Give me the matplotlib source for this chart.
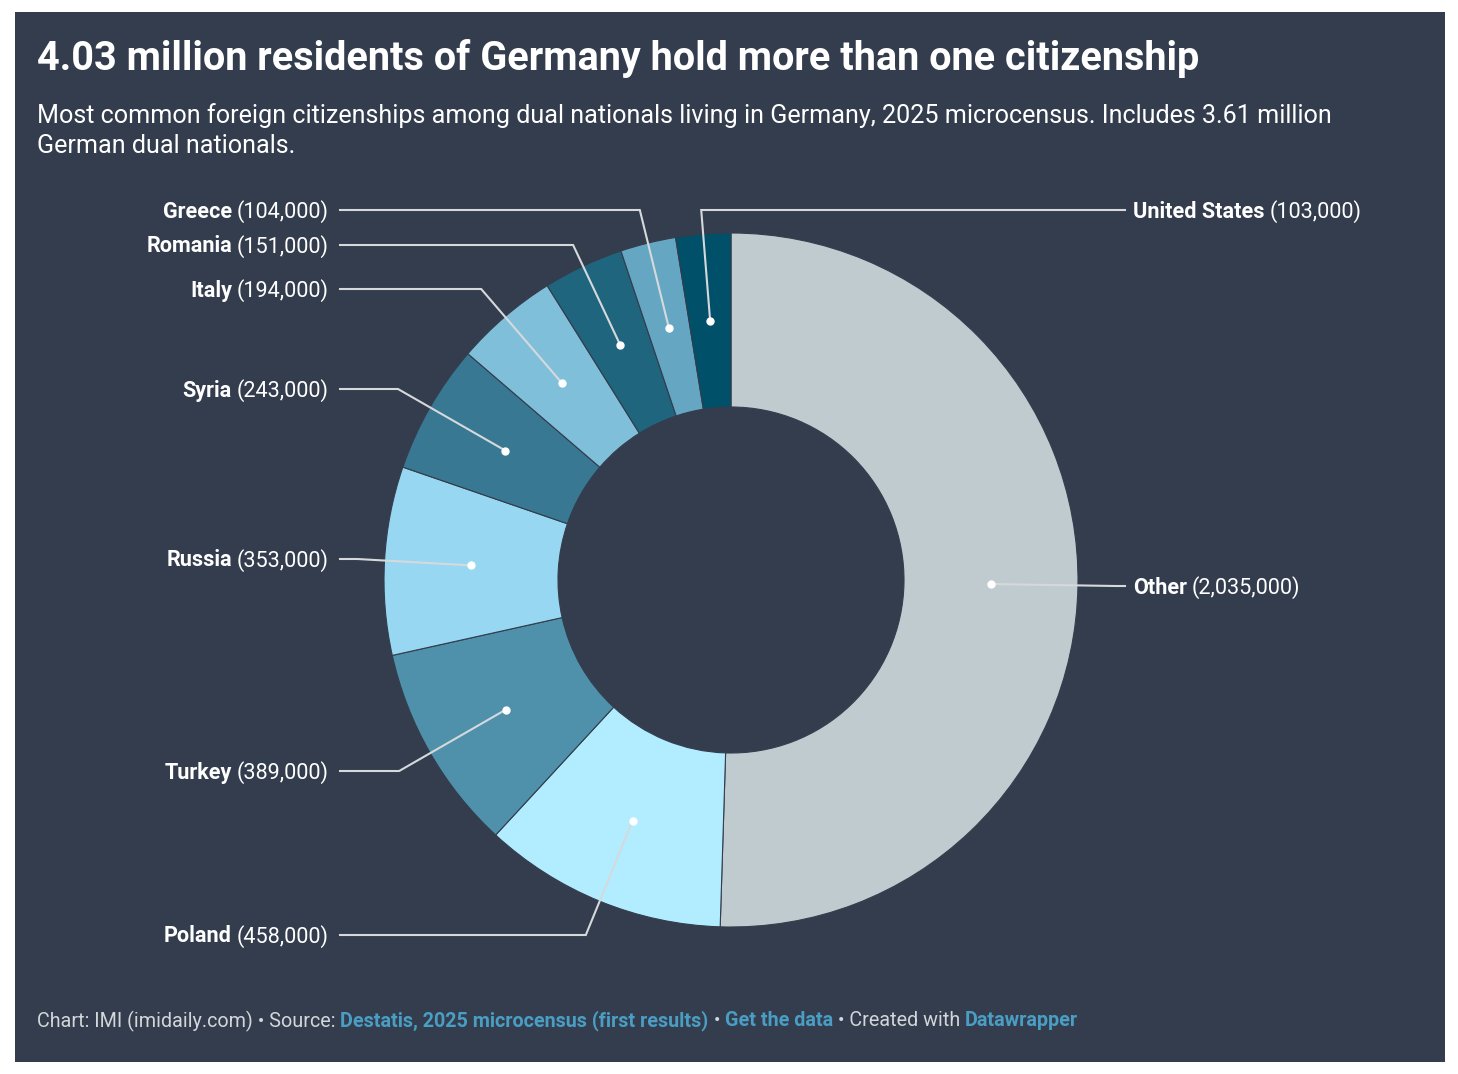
import numpy as np
import matplotlib.pyplot as plt
from matplotlib.patches import Rectangle

# Data (top of the ring, clockwise)
countries = ['Other', 'Poland', 'Turkey', 'Russia', 'Syria', 'Italy',
             'Romania', 'Greece', 'United States']
values = [2035000, 458000, 389000, 353000, 243000, 194000, 151000, 104000, 103000]
colors = ['#bfcbcf', '#b1edff', '#4f91ab', '#98d7f2', '#387892', '#80bfda',
          '#1f657e', '#65a7c2', '#00506a']

# label layout (pixel rows) and side
label_y = [586, 935, 771, 559, 389, 289, 245, 210, 210]
label_side = ['right', 'left', 'left', 'left', 'left', 'left', 'left', 'left', 'right']

BG = '#333d4d'
W, H = 1458, 1074

plt.rcParams['font.family'] = ['Roboto', 'DejaVu Sans']

fig = plt.figure(figsize=(W / 100, H / 100), dpi=100)
fig.patch.set_facecolor('white')
ax = fig.add_axes([0, 0, 1, 1])

cx, cy, R, width = 731, 580, 347, 174
# y axis is inverted (pixel rows), so counterclock=True looks clockwise
wedges, _ = ax.pie(values, colors=colors, startangle=-90, counterclock=True,
                   radius=R, center=(cx, cy),
                   wedgeprops=dict(width=width, edgecolor=BG, linewidth=0.8))

ax.set_xlim(0, W)
ax.set_ylim(H, 0)
ax.set_aspect('equal')
ax.axis('off')
ax.add_patch(Rectangle((15, 12), 1430, 1050, facecolor=BG, edgecolor='none', zorder=-5))

fig.canvas.draw()
renderer = fig.canvas.get_renderer()


def text_width(t):
    bb = t.get_window_extent(renderer=renderer)
    return bb.width  # 1 px == 1 data unit here


def two_part(x, y, bold, regular, side, size=15.6):
    y = y + 1.5  # va='center' counts descenders, nudge down a little
    if side == 'left':
        t2 = ax.text(x, y, '(' + regular + ')', color='white', fontsize=size,
                     ha='right', va='center')
        w = text_width(t2)
        ax.text(x - w - 5, y, bold, color='white', fontsize=size,
                fontweight='bold', ha='right', va='center')
    else:
        t1 = ax.text(x, y, bold, color='white', fontsize=size,
                     fontweight='bold', ha='left', va='center')
        w = text_width(t1)
        ax.text(x + w + 5, y, '(' + regular + ')', color='white', fontsize=size,
                ha='left', va='center')


rmid = R - width / 2
for wd, name, val, ly, side in zip(wedges, countries, values, label_y, label_side):
    ang = np.deg2rad((wd.theta1 + wd.theta2) / 2)
    dx, dy = np.cos(ang), np.sin(ang)
    px, py = cx + rmid * dx, cy + rmid * dy
    # go outward radially until the label row, then across
    if abs(dy) > 1e-6:
        t = (ly - py) / dy
        ex = px + t * dx if t > 0 else px
    else:
        ex = px
    if side == 'left':
        endx = 340
        ex = max(ex, endx)
    else:
        endx = 1125
        ex = min(ex, endx)
    ax.plot([px, ex, endx], [py, ly, ly], color='#d6d9dc', lw=1.5,
            solid_joinstyle='miter', zorder=4)
    ax.plot(px, py, 'o', color='white', ms=5, zorder=5)
    if side == 'left':
        two_part(329, ly, name, f'{val:,}', 'left')
    else:
        two_part(1133, ly, name, f'{val:,}', 'right')

# titles
ax.text(37, 59, '4.03 million residents of Germany hold more than one citizenship',
        color='white', fontsize=28.5, fontweight='bold', ha='left', va='center')
ax.text(37, 116, 'Most common foreign citizenships among dual nationals living in Germany, '
        '2025 microcensus. Includes 3.61 million', color='white', fontsize=18.1,
        ha='left', va='center')
ax.text(37, 146, 'German dual nationals.', color='white', fontsize=18.1,
        ha='left', va='center')

# footer
footer = [('Chart: IMI (imidaily.com) • Source: ', '#d3d6da', 'normal'),
          ('Destatis, 2025 microcensus (first results)', '#4a9dc3', 'bold'),
          (' • ', '#d3d6da', 'normal'),
          ('Get the data', '#4a9dc3', 'bold'),
          (' • Created with ', '#d3d6da', 'normal'),
          ('Datawrapper', '#4a9dc3', 'bold')]
fx = 37
for txt, col, wt in footer:
    t = ax.text(fx, 1021, txt, color=col, fontsize=14.2, fontweight=wt,
                ha='left', va='center')
    fx += text_width(t)

fig.savefig('out.png', dpi=100, facecolor='white')
